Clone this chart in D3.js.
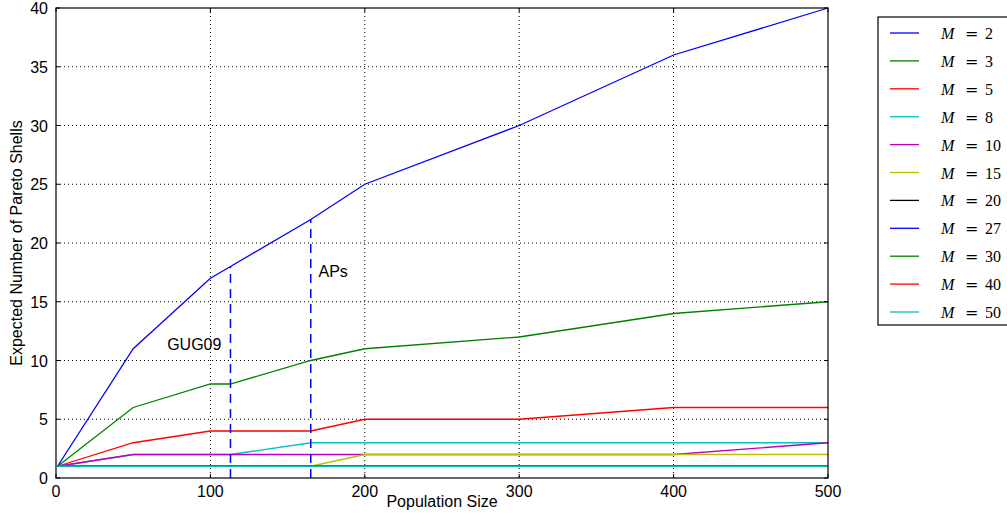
<!DOCTYPE html>
<html>
<head>
<meta charset="utf-8">
<script src="https://cdn.jsdelivr.net/npm/d3@7"></script>
<style>
  body { margin: 0; background: white; }
  text { font-family: "Liberation Sans", Arial, sans-serif; }
</style>
</head>
<body>
<div id="container"></div>
<script>
let w = 1007;
let h = 520;

// DATA
let popSizes = [1, 50, 100, 113, 165, 200, 300, 400, 500];
let mLabels = ["2", "3", "5", "8", "10", "15", "20", "27", "30", "40", "50"];
let m2 = [1, 11, 17, 18, 22, 25, 30, 36, 40];
let m3 = [1, 6, 8, 8, 10, 11, 12, 14, 15];
let m5 = [1, 3, 4, 4, 4, 5, 5, 6, 6];
let m8 = [1, 2, 2, 2, 3, 3, 3, 3, 3];
let m10 = [1, 2, 2, 2, 2, 2, 2, 2, 3];
let m15 = [1, 1, 1, 1, 1, 2, 2, 2, 2];
let m20 = [1, 1, 1, 1, 1, 1, 1, 1, 1];
let m27 = [1, 1, 1, 1, 1, 1, 1, 1, 1];
let m30 = [1, 1, 1, 1, 1, 1, 1, 1, 1];
let m40 = [1, 1, 1, 1, 1, 1, 1, 1, 1];
let m50 = [1, 1, 1, 1, 1, 1, 1, 1, 1];
let allSeries = [m2, m3, m5, m8, m10, m15, m20, m27, m30, m40, m50];
let colors = ["#0000ff", "#008000", "#ff0000", "#00bfbf", "#bf00bf", "#bfbf00",
              "#000000", "#0000ff", "#008000", "#ff0000", "#00bfbf"];
let xTicks = [0, 100, 200, 300, 400, 500];
let yTicks = [0, 5, 10, 15, 20, 25, 30, 35, 40];
// reference markers (x position, top value) and their labels
let markers = [{x: 113, top: 18}, {x: 165, top: 22}];
let notes = [{text: "GUG09", x: 72, y: 10.9}, {text: "APs", x: 170, y: 17.1}];

let pLeft = 56, pRight = 828, pTop = 8, pBottom = 478;

let viz = d3.select("#container").append("svg")
    .attr("width", w)
    .attr("height", h)
    .style("background-color", "white")
;

let xScale = d3.scaleLinear().domain([0, 500]).range([pLeft, pRight]);
let yScale = d3.scaleLinear().domain([0, 40]).range([pBottom, pTop]);

// grid
viz.append("g").selectAll("line").data(xTicks.slice(1, -1)).enter()
  .append("line")
    .attr("x1", d => xScale(d)).attr("x2", d => xScale(d))
    .attr("y1", pTop).attr("y2", pBottom)
    .attr("stroke", "black").attr("stroke-width", 1)
    .attr("stroke-dasharray", "1,3")
;
viz.append("g").selectAll("line").data(yTicks.slice(1, -1)).enter()
  .append("line")
    .attr("x1", pLeft).attr("x2", pRight)
    .attr("y1", d => yScale(d)).attr("y2", d => yScale(d))
    .attr("stroke", "black").attr("stroke-width", 1)
    .attr("stroke-dasharray", "1,3")
;

// lines
let lineMaker = d3.line()
    .x((d, i) => xScale(popSizes[i]))
    .y(d => yScale(d))
;
let plot = viz.append("g");
allSeries.forEach(function(s, i) {
  plot.append("path")
      .attr("d", lineMaker(s))
      .attr("fill", "none")
      .attr("stroke", colors[i])
      .attr("stroke-width", 1.3)
  ;
});

// dashed markers
viz.selectAll(".marker").data(markers).enter()
  .append("line")
    .attr("class", "marker")
    .attr("x1", d => xScale(d.x)).attr("x2", d => xScale(d.x))
    .attr("y1", yScale(0)).attr("y2", d => yScale(d.top))
    .attr("stroke", "#0000ff").attr("stroke-width", 1.5)
    .attr("stroke-dasharray", "9,6")
;
viz.selectAll(".note").data(notes).enter()
  .append("text")
    .attr("class", "note")
    .attr("x", d => xScale(d.x)).attr("y", d => yScale(d.y))
    .attr("font-size", 16)
    .text(d => d.text)
;

// frame
viz.append("rect")
    .attr("x", pLeft).attr("y", pTop)
    .attr("width", pRight - pLeft).attr("height", pBottom - pTop)
    .attr("fill", "none").attr("stroke", "black").attr("stroke-width", 1.2)
;

// inward ticks
let tickLen = 4;
xTicks.forEach(function(t) {
  viz.append("line").attr("x1", xScale(t)).attr("x2", xScale(t))
    .attr("y1", pBottom).attr("y2", pBottom - tickLen).attr("stroke", "black");
  viz.append("line").attr("x1", xScale(t)).attr("x2", xScale(t))
    .attr("y1", pTop).attr("y2", pTop + tickLen).attr("stroke", "black");
  viz.append("text").attr("x", xScale(t)).attr("y", pBottom + 19)
    .attr("text-anchor", "middle").attr("font-size", 16).text(t);
});
yTicks.forEach(function(t) {
  viz.append("line").attr("x1", pLeft).attr("x2", pLeft + tickLen)
    .attr("y1", yScale(t)).attr("y2", yScale(t)).attr("stroke", "black");
  viz.append("line").attr("x1", pRight).attr("x2", pRight - tickLen)
    .attr("y1", yScale(t)).attr("y2", yScale(t)).attr("stroke", "black");
  viz.append("text").attr("x", pLeft - 8).attr("y", Math.max(yScale(t) + 6, 14))
    .attr("text-anchor", "end").attr("font-size", 16).text(t);
});

// axis labels
viz.append("text")
    .attr("x", (pLeft + pRight) / 2).attr("y", 507)
    .attr("text-anchor", "middle").attr("font-size", 16)
    .text("Population Size");
viz.append("text")
    .attr("transform", "translate(22," + ((pTop + pBottom) / 2) + ") rotate(-90)")
    .attr("text-anchor", "middle").attr("font-size", 16)
    .text("Expected Number of Pareto Shells");

// legend
let legend = viz.append("g");
legend.append("rect")
    .attr("x", 878).attr("y", 17).attr("width", 140).attr("height", 308)
    .attr("fill", "white").attr("stroke", "black").attr("stroke-width", 1.2);
mLabels.forEach(function(m, i) {
  let y = 33 + i * 27.9;
  legend.append("line").attr("x1", 890).attr("x2", 919)
    .attr("y1", y).attr("y2", y)
    .attr("stroke", colors[i]).attr("stroke-width", 1.3);
  let serif = "'Liberation Serif', serif";
  legend.append("text").attr("x", 941).attr("y", y + 6)
    .attr("font-size", 16).attr("font-style", "italic")
    .style("font-family", serif).text("M");
  legend.append("text").attr("x", 965).attr("y", y + 6)
    .attr("font-size", 16).style("font-family", "'DejaVu Serif', serif").text("=");
  legend.append("text").attr("x", 985).attr("y", y + 6)
    .attr("font-size", 16).style("font-family", serif).text(m);
});
</script>
</body>
</html>
